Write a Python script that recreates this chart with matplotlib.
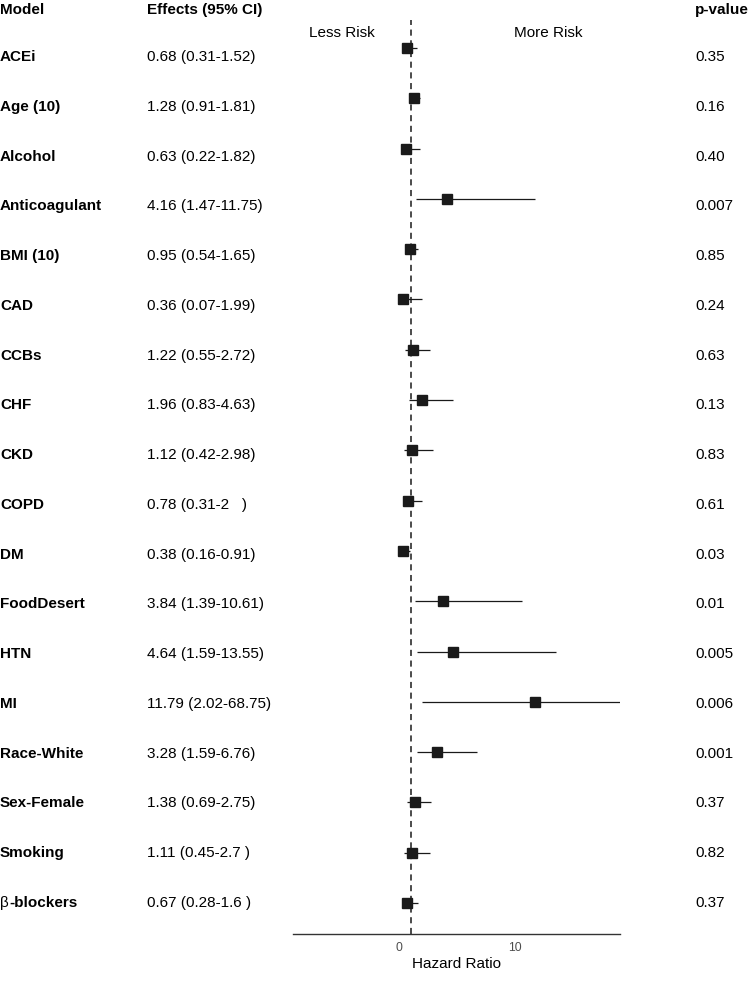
#!/usr/bin/env python3
"""
Forest plot of hazard ratios with side tables of effects and p-values.
"""
import matplotlib.pyplot as plt

plt.rcParams['font.family'] = ['Liberation Sans', 'DejaVu Sans']

models = ['ACEi', 'Age (10)', 'Alcohol', 'Anticoagulant', 'BMI (10)', 'CAD',
          'CCBs', 'CHF', 'CKD', 'COPD', 'DM', 'FoodDesert', 'HTN', 'MI',
          'Race-White', 'Sex-Female', 'Smoking', '\u03b2-blockers']
hr = [0.68, 1.28, 0.63, 4.16, 0.95, 0.36, 1.22, 1.96, 1.12, 0.78, 0.38,
      3.84, 4.64, 11.79, 3.28, 1.38, 1.11, 0.67]
lower = [0.31, 0.91, 0.22, 1.47, 0.54, 0.07, 0.55, 0.83, 0.42, 0.31, 0.16,
         1.39, 1.59, 2.02, 1.59, 0.69, 0.45, 0.28]
upper = [1.52, 1.81, 1.82, 11.75, 1.65, 1.99, 2.72, 4.63, 2.98, 2.0, 0.91,
         10.61, 13.55, 68.75, 6.76, 2.75, 2.7, 1.6]
effects = ['0.68 (0.31-1.52)', '1.28 (0.91-1.81)', '0.63 (0.22-1.82)',
           '4.16 (1.47-11.75)', '0.95 (0.54-1.65)', '0.36 (0.07-1.99)',
           '1.22 (0.55-2.72)', '1.96 (0.83-4.63)', '1.12 (0.42-2.98)',
           '0.78 (0.31-2   )', '0.38 (0.16-0.91)', '3.84 (1.39-10.61)',
           '4.64 (1.59-13.55)', '11.79 (2.02-68.75)', '3.28 (1.59-6.76)',
           '1.38 (0.69-2.75)', '1.11 (0.45-2.7 )', '0.67 (0.28-1.6 )']
pvals = ['0.35', '0.16', '0.40', '0.007', '0.85', '0.24', '0.63', '0.13',
         '0.83', '0.61', '0.03', '0.01', '0.005', '0.006', '0.001', '0.37',
         '0.82', '0.37']

W, H = 750, 981
fig = plt.figure(figsize=(W / 100, H / 100), dpi=100)

# plot panel, in pixel units
left, right, top, bottom = 293, 620, 20, 934
ax = fig.add_axes([left / W, 1 - bottom / H, (right - left) / W, (bottom - top) / H])

rows = list(range(len(models)))
dark = '#1a1a1a'
for i in rows:
    ax.plot([lower[i], upper[i]], [i, i], color=dark, lw=0.9,
            solid_capstyle='butt', clip_on=True)
ax.plot(hr, rows, ls='none', marker='s', ms=7.2, color=dark, zorder=3)
ax.axvline(1, color=dark, ls=(0, (4, 3)), lw=1.1)

# square rows run from 48px to 903px
step = (903 - 48) / (len(models) - 1)
ax.set_ylim((bottom - 48) / step, (top - 48) / step)
ax.set_xlim(-9.18, 19.13)
ax.set_xticks([0, 10])
ax.tick_params(axis='x', length=0, colors='#4d4d4d', labelsize=8.8, pad=6)
ax.set_yticks([])
for s in ['top', 'right', 'left']:
    ax.spines[s].set_visible(False)
ax.spines['bottom'].set_color('#333333')
ax.spines['bottom'].set_linewidth(1)
ax.set_xlabel('Hazard Ratio', fontsize=11, labelpad=2)
ax.patch.set_alpha(0)


def fy(px):
    return 1 - px / H


ax.text(342 / W, fy(33), 'Less Risk', transform=fig.transFigure,
        ha='center', va='center', fontsize=11)
ax.text(548 / W, fy(33), 'More Risk', transform=fig.transFigure,
        ha='center', va='center', fontsize=11)

fig.text(0 / W, fy(10), 'Model', fontsize=11, fontweight='bold', va='center')
fig.text(147 / W, fy(10), 'Effects (95% CI)', fontsize=11, fontweight='bold', va='center')
fig.text(695 / W, fy(10), 'p-value', fontsize=11, fontweight='bold', va='center')

tstep = (903 - 57) / (len(models) - 1)
for i in rows:
    y = fy(57 + tstep * i)
    name = models[i]
    if name.startswith('\u03b2'):
        # the beta sign is drawn in regular weight
        fig.text(0 / W, y, name[0], fontsize=11, va='center')
        fig.text(9 / W, y, name[1:], fontsize=11, fontweight='bold', va='center')
    else:
        fig.text(0 / W, y, name, fontsize=11, fontweight='bold', va='center')
    fig.text(147 / W, y, effects[i], fontsize=11, va='center')
    fig.text(695 / W, y, pvals[i], fontsize=11, va='center')

fig.savefig('out.png', dpi=100)
